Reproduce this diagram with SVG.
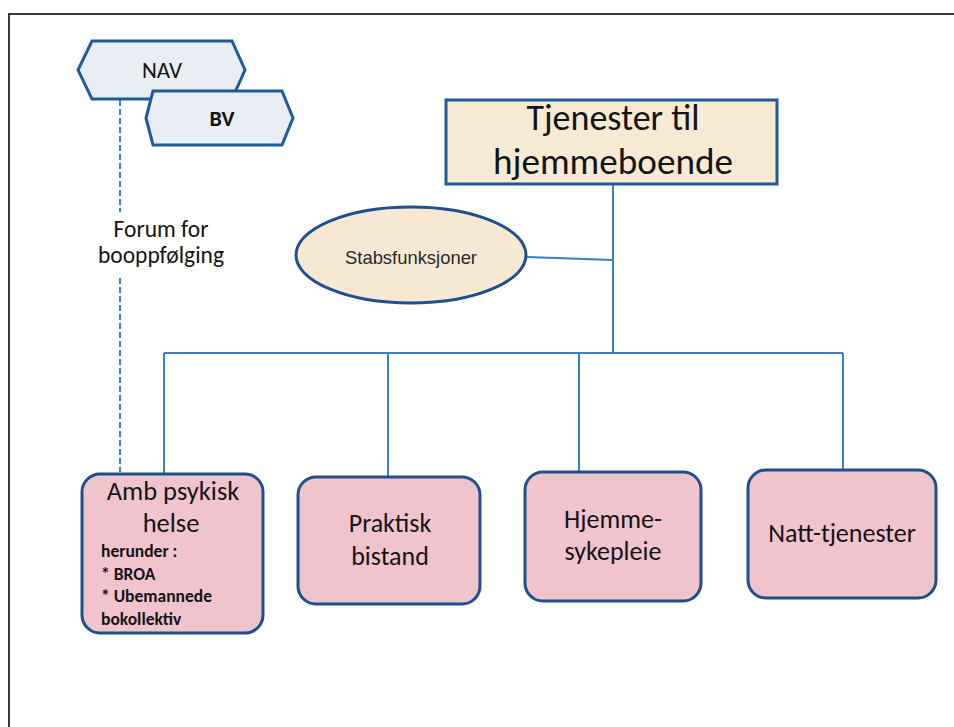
<svg xmlns="http://www.w3.org/2000/svg" width="954" height="727" viewBox="0 0 954 727">
<style>
.frame{stroke:#3a3a3a;stroke-width:2;fill:none}
.hex{fill:#e9eef5;stroke:#1f5b99;stroke-width:3}
.box{fill:#efc4cd;stroke:#1f4f8f;stroke-width:3}
.title{fill:#f7ead3;stroke:#1f5b99;stroke-width:3}
.ell{fill:#f6e8d3;stroke:#1f4f8f;stroke-width:3}
.conn{stroke:#3a80c2;stroke-width:2;fill:none}
.dash{stroke:#2f86d8;stroke-width:2;fill:none;stroke-dasharray:6 3}
.t{font-family:Carlito,Lato,"Noto Sans",sans-serif;fill:#141414;text-anchor:middle}
.s{font-family:Carlito,Lato,"Noto Sans",sans-serif;fill:#141414;font-weight:bold;font-size:17.5px}
</style>
<rect width="954" height="727" fill="#ffffff"/>
<path class="frame" d="M9,727 L9,14 L954,14"/>
<g id="connectors">
<path class="dash" d="M120,100 V212 M120,278 V472"/>
<path class="conn" d="M613,184 V353 M527,257 L613,260 M164,353 H843 M164,353 V474 M388,353 V477 M579,353 V472 M843,353 V470"/>
</g>
<g id="nav">
<polygon class="hex" points="78,70 92,41 232,41 245,70 232,99 92,99"/>
<text class="t" x="162" y="78" font-size="23" fill="#333">NAV</text>
</g>
<g id="bv">
<polygon class="hex" points="146,118 153,91 282,91 293,118 282,145 153,145"/>
<text class="t" x="222" y="126" font-size="22" font-weight="bold">BV</text>
</g>
<g id="forum">
<text class="t" x="161" y="237" font-size="23.5" fill="#3a3a3a">Forum for</text>
<text class="t" x="161" y="263" font-size="23.5" fill="#3a3a3a">booppfølging</text>
</g>
<g id="tjenester">
<rect class="title" x="446" y="100" width="331" height="84"/>
<text class="t" x="613" y="130" font-size="36">Tjenester til</text>
<text class="t" x="613" y="174" font-size="36" textLength="240" lengthAdjust="spacingAndGlyphs">hjemmeboende</text>
</g>
<g id="stabsfunksjoner">
<ellipse class="ell" cx="411" cy="255" rx="115" ry="48"/>
<text x="411" y="264" font-family="'Liberation Sans',Arial,sans-serif" font-size="19" fill="#2a2a2a" text-anchor="middle" textLength="132" lengthAdjust="spacingAndGlyphs">Stabsfunksjoner</text>
</g>
<g id="amb">
<rect class="box" x="82" y="474" width="181" height="159" rx="18"/>
<text class="t" x="173" y="500" font-size="26.5">Amb psykisk</text>
<text class="t" x="171" y="532" font-size="26.5">helse</text>
<text class="s" x="101" y="557">herunder :</text>
<text class="s" x="101" y="580">* BROA</text>
<text class="s" x="101" y="602">* Ubemannede</text>
<text class="s" x="101" y="625">bokollektiv</text>
</g>
<g id="praktisk">
<rect class="box" x="298" y="477" width="182" height="127" rx="18"/>
<text class="t" x="390" y="532" font-size="26">Praktisk</text>
<text class="t" x="390" y="565" font-size="26">bistand</text>
</g>
<g id="hjemmesykepleie">
<rect class="box" x="525" y="472" width="176" height="129" rx="18"/>
<text class="t" x="613" y="528" font-size="26">Hjemme-</text>
<text class="t" x="613" y="560" font-size="26">sykepleie</text>
</g>
<g id="natt">
<rect class="box" x="748" y="470" width="188" height="128" rx="18"/>
<text class="t" x="842" y="542" font-size="26">Natt-tjenester</text>
</g>
</svg>
